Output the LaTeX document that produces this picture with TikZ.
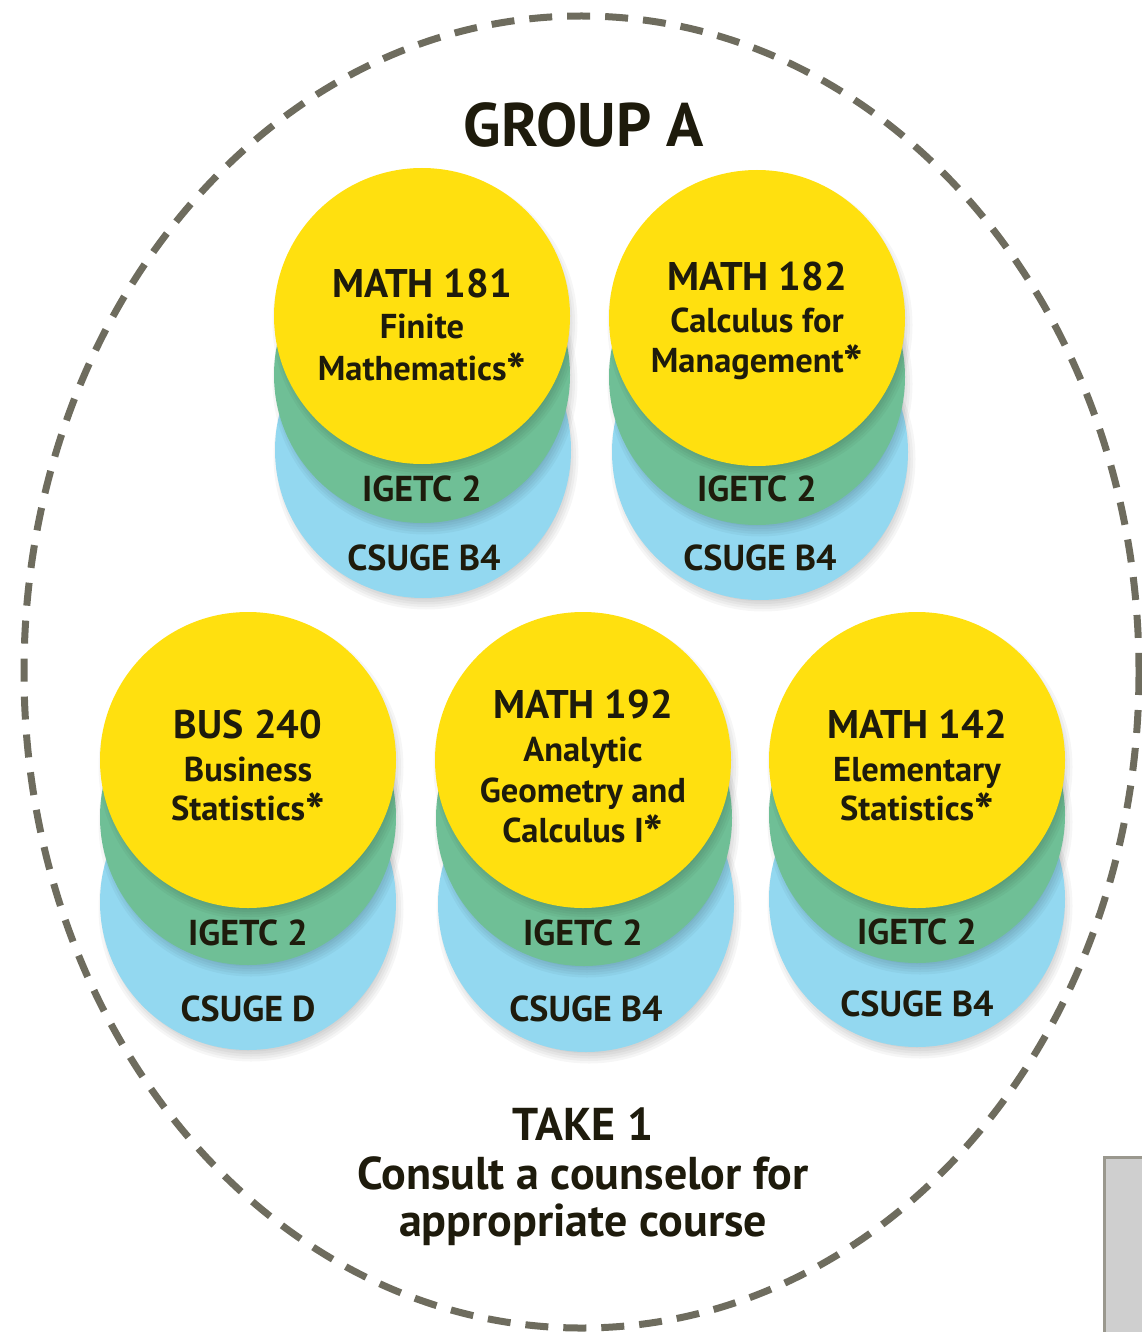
\documentclass[tikz,border=0pt]{standalone}
\usepackage{fontspec}
\usepackage{graphicx}
\setmainfont{PT Sans}
\definecolor{cyel}{HTML}{FFE00F}
\definecolor{cgrn}{HTML}{6FBF96}
\definecolor{cblu}{HTML}{93D8F0}
\definecolor{ctxt}{HTML}{1E1B0C}
\definecolor{cdash}{HTML}{6E6C5E}
\definecolor{cbox}{HTML}{CFCFCF}
\definecolor{cboxline}{HTML}{9A988E}
\newcommand\bigast{\raisebox{-0.3em}{\scalebox{1.5}{*}}}
\newcommand\softshadow[2]{%
  \foreach \k in {0,...,5}{\fill[black,opacity=0.035] (#1+3,#2+7) circle[radius=140+2.5*\k];}}
\begin{document}
\begin{tikzpicture}[x=1pt,y=-1pt,
  disc/.style={circle, minimum size=296pt, inner sep=0pt, draw=none},
  ydisc/.style={disc, fill=cyel},
  gdisc/.style={disc, fill=cgrn},
  bdisc/.style={disc, fill=cblu},
  ttl/.style={anchor=base, inner sep=0pt, text=ctxt, font=\bfseries\fontsize{40}{44}\selectfont},
  sub/.style={anchor=base, inner sep=0pt, text=ctxt, font=\bfseries\fontsize{34.5}{38}\selectfont},
  tag/.style={anchor=base, inner sep=0pt, text=ctxt, font=\bfseries\fontsize{36}{40}\selectfont},
  big/.style={anchor=base, inner sep=0pt, text=ctxt, font=\bfseries\fontsize{61.5}{66}\selectfont},
  foot/.style={anchor=base, inner sep=0pt, text=ctxt, font=\bfseries\fontsize{46}{50}\selectfont}]
\useasboundingbox (0,0) rectangle (1141,1332);
\fill[white] (0,0) rectangle (1141,1332);

% gray box at lower right
\fill[cbox] (1103,1156) rectangle (1145,1336);
\draw[cboxline, line width=3pt] (1104.5,1336) -- (1104.5,1157.5) -- (1145,1157.5);

% dashed outline
\draw[cdash, line width=7pt, dash pattern=on 23pt off 15pt] (581.5,672) ellipse [x radius=557.5, y radius=656];

\node[big] (title) at (584,147) {GROUP A};

% ---------- blue discs
\softshadow{423}{450}
\softshadow{760}{452}
\softshadow{248}{902}
\softshadow{586}{904}
\softshadow{917}{899}
\node[bdisc] (b181) at (423,450) {};
\node[bdisc] (b182) at (760,452) {};
\node[bdisc] (b240) at (248,902) {};
\node[bdisc] (b192) at (586,904) {};
\node[bdisc] (b142) at (917,899) {};
% ---------- green discs
\softshadow{422}{375}
\softshadow{757}{377}
\softshadow{248}{817}
\softshadow{584}{818}
\softshadow{917}{815}
\node[gdisc] (g181) at (422,375) {};
\node[gdisc] (g182) at (757,377) {};
\node[gdisc] (g240) at (248,817) {};
\node[gdisc] (g192) at (584,818) {};
\node[gdisc] (g142) at (917,815) {};
% ---------- yellow discs
\softshadow{422}{316}
\softshadow{757}{318}
\softshadow{248}{760}
\softshadow{583}{760}
\softshadow{917}{760}
\node[ydisc] (y181) at (422,316) {};
\node[ydisc] (y182) at (757,318) {};
\node[ydisc] (y240) at (248,760) {};
\node[ydisc] (y192) at (583,760) {};
\node[ydisc] (y142) at (917,760) {};

% ---------- texts MATH 181
\node[ttl] (t181a) at (422,297) {MATH 181};
\node[sub] (t181b) at (422,338) {Finite};
\node[sub] (t181c) at (422,380) {Mathematics\bigast};
\node[tag] (t181d) at (422,501) {IGETC 2};
\node[tag] (t181e) at (424,570) {CSUGE B4};
% MATH 182
\node[ttl] (t182a) at (757,290) {MATH 182};
\node[sub] (t182b) at (757,332) {Calculus for};
\node[sub] (t182c) at (757,372) {Management\bigast};
\node[tag] (t182d) at (757,501) {IGETC 2};
\node[tag] (t182e) at (760,570) {CSUGE B4};
% BUS 240
\node[ttl] (t240a) at (248,738) {BUS 240};
\node[sub] (t240b) at (248,781) {Business};
\node[sub] (t240c) at (248,820) {Statistics\bigast};
\node[tag] (t240d) at (248,945) {IGETC 2};
\node[tag] (t240e) at (248,1021) {CSUGE D};
% MATH 192
\node[ttl] (t192a) at (583,718) {MATH 192};
\node[sub] (t192b) at (583,761) {Analytic};
\node[sub] (t192c) at (583,802) {Geometry and};
\node[sub] (t192d) at (583,842) {Calculus I\bigast};
\node[tag] (t192e) at (583,945) {IGETC 2};
\node[tag] (t192f) at (586,1021) {CSUGE B4};
% MATH 142
\node[ttl] (t142a) at (917,738) {MATH 142};
\node[sub] (t142b) at (917,781) {Elementary};
\node[sub] (t142c) at (917,820) {Statistics\bigast};
\node[tag] (t142d) at (917,944) {IGETC 2};
\node[tag] (t142e) at (917,1016) {CSUGE B4};

% footer
\node[foot] (f1) at (583,1140) {TAKE 1};
\node[foot] (f2) at (583,1189) {Consult a counselor for};
\node[foot] (f3) at (583,1236) {appropriate course};
\end{tikzpicture}
\end{document}
